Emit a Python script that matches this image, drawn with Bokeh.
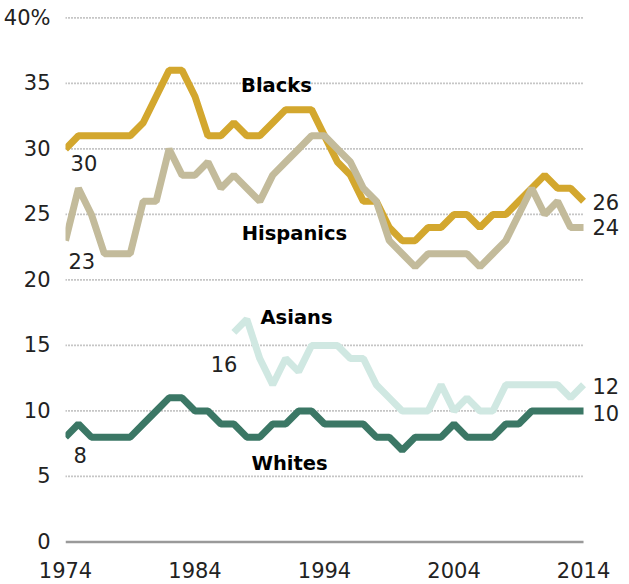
from bokeh.plotting import figure
from bokeh.models import Range1d, FixedTicker, Label
from bokeh.core.properties import value
from bokeh.embed import file_html
from bokeh.resources import INLINE

years = list(range(1974, 2015))
blacks = [30, 31, 31, 31, 31, 31, 32, 34, 36, 36, 34, 31, 31, 32, 31, 31, 32, 33, 33, 33,
          31, 29, 28, 26, 26, 24, 23, 23, 24, 24, 25, 25, 24, 25, 25, 26, 27, 28, 27, 27, 26]
hispanics = [23, 27, 25, 22, 22, 22, 26, 26, 30, 28, 28, 29, 27, 28, 27, 26, 28, 29, 30, 31,
             31, 30, 29, 27, 26, 23, 22, 21, 22, 22, 22, 22, 21, 22, 23, 25, 27, 25, 26, 24, 24]
asian_years = list(range(1987, 2015))
asians = [16, 17, 14, 12, 14, 13, 15, 15, 15, 14, 14, 12, 11, 10, 10, 10, 12, 10, 11, 10,
          10, 12, 12, 12, 12, 12, 11, 12]
whites = [8, 9, 8, 8, 8, 8, 9, 10, 11, 11, 10, 10, 9, 9, 8, 8, 9, 9, 10, 10,
          9, 9, 9, 9, 8, 8, 7, 8, 8, 8, 9, 8, 8, 8, 9, 9, 10, 10, 10, 10, 10]
y_ticks = [0, 5, 10, 15, 20, 25, 30, 35, 40]
y_tick_labels = {40: "40%"}
x_ticks = [1974, 1984, 1994, 2004, 2014]

FONT = "DejaVu Sans"
C_BLACK = "#D3A72E"
C_HISP = "#C3BB9B"
C_ASIAN = "#D0E8E2"
C_WHITE = "#3B7765"
TXT = "#222222"

p = figure(width=629, height=584, output_backend="svg", toolbar_location=None,
           x_range=Range1d(1974, 2017.55), y_range=Range1d(-0.5, 41.33),
           min_border_left=65, min_border_right=0, min_border_top=0, min_border_bottom=36)
p.outline_line_color = None
p.background_fill_color = "white"
p.border_fill_color = "white"
p.xgrid.visible = False
p.ygrid.visible = False

for ax in (p.xaxis[0], p.yaxis[0]):
    ax.axis_line_color = None
    ax.major_tick_line_color = None
    ax.minor_tick_line_color = None
    ax.major_label_text_font = FONT
    ax.major_label_text_font_size = "21px"
    ax.major_label_text_color = TXT
p.xaxis.ticker = FixedTicker(ticks=x_ticks)
p.yaxis.ticker = FixedTicker(ticks=y_ticks)
p.yaxis.major_label_overrides = y_tick_labels
p.xaxis.major_label_standoff = 7
p.yaxis.major_label_standoff = 9

# dotted grid lines across the data span
gy = [t for t in y_ticks if t > 0]
p.segment(x0=[years[0]] * len(gy), x1=[years[-1]] * len(gy), y0=gy, y1=gy,
          line_color="#8c8c8c", line_width=1.8, line_dash=value([1, 2]))
p.segment(x0=[years[0]], x1=[years[-1]], y0=[0], y1=[0], line_color="#9a9a9a", line_width=2.5)

LW = 7
p.line(years, blacks, line_color=C_BLACK, line_width=LW)
p.line(years, hispanics, line_color=C_HISP, line_width=LW)
p.line(asian_years, asians, line_color=C_ASIAN, line_width=LW)
p.line(years, whites, line_color=C_WHITE, line_width=LW)

def lab(x, y, text, bold=False, align="left", size="21px"):
    p.add_layout(Label(x=x, y=y, text=text, text_font=FONT, text_font_size=size,
                       text_font_style="bold" if bold else "normal", text_color="#000000" if bold else TXT,
                       text_align=align, text_baseline="middle"))

lab(1990.29, 34.85, "Blacks", bold=True, align="center", size="19.5px")
lab(1991.68, 23.55, "Hispanics", bold=True, align="center", size="19.5px")
lab(1991.84, 17.14, "Asians", bold=True, align="center", size="19.5px")
lab(1991.3, 6.0, "Whites", bold=True, align="center", size="19.5px")

lab(1974.39, 28.9, str(blacks[0]))
lab(1974.23, 21.45, str(hispanics[0]))
lab(1987.28, 13.59, str(asians[0]), align="right")
lab(1974.62, 6.6, str(whites[0]))
lab(2014.69, 25.95, str(blacks[-1]))
lab(2014.69, 24.05, str(hispanics[-1]))
lab(2014.69, 11.87, str(asians[-1]))
lab(2014.69, 9.85, str(whites[-1]))

open("out.html", "w").write(file_html(p, INLINE))
